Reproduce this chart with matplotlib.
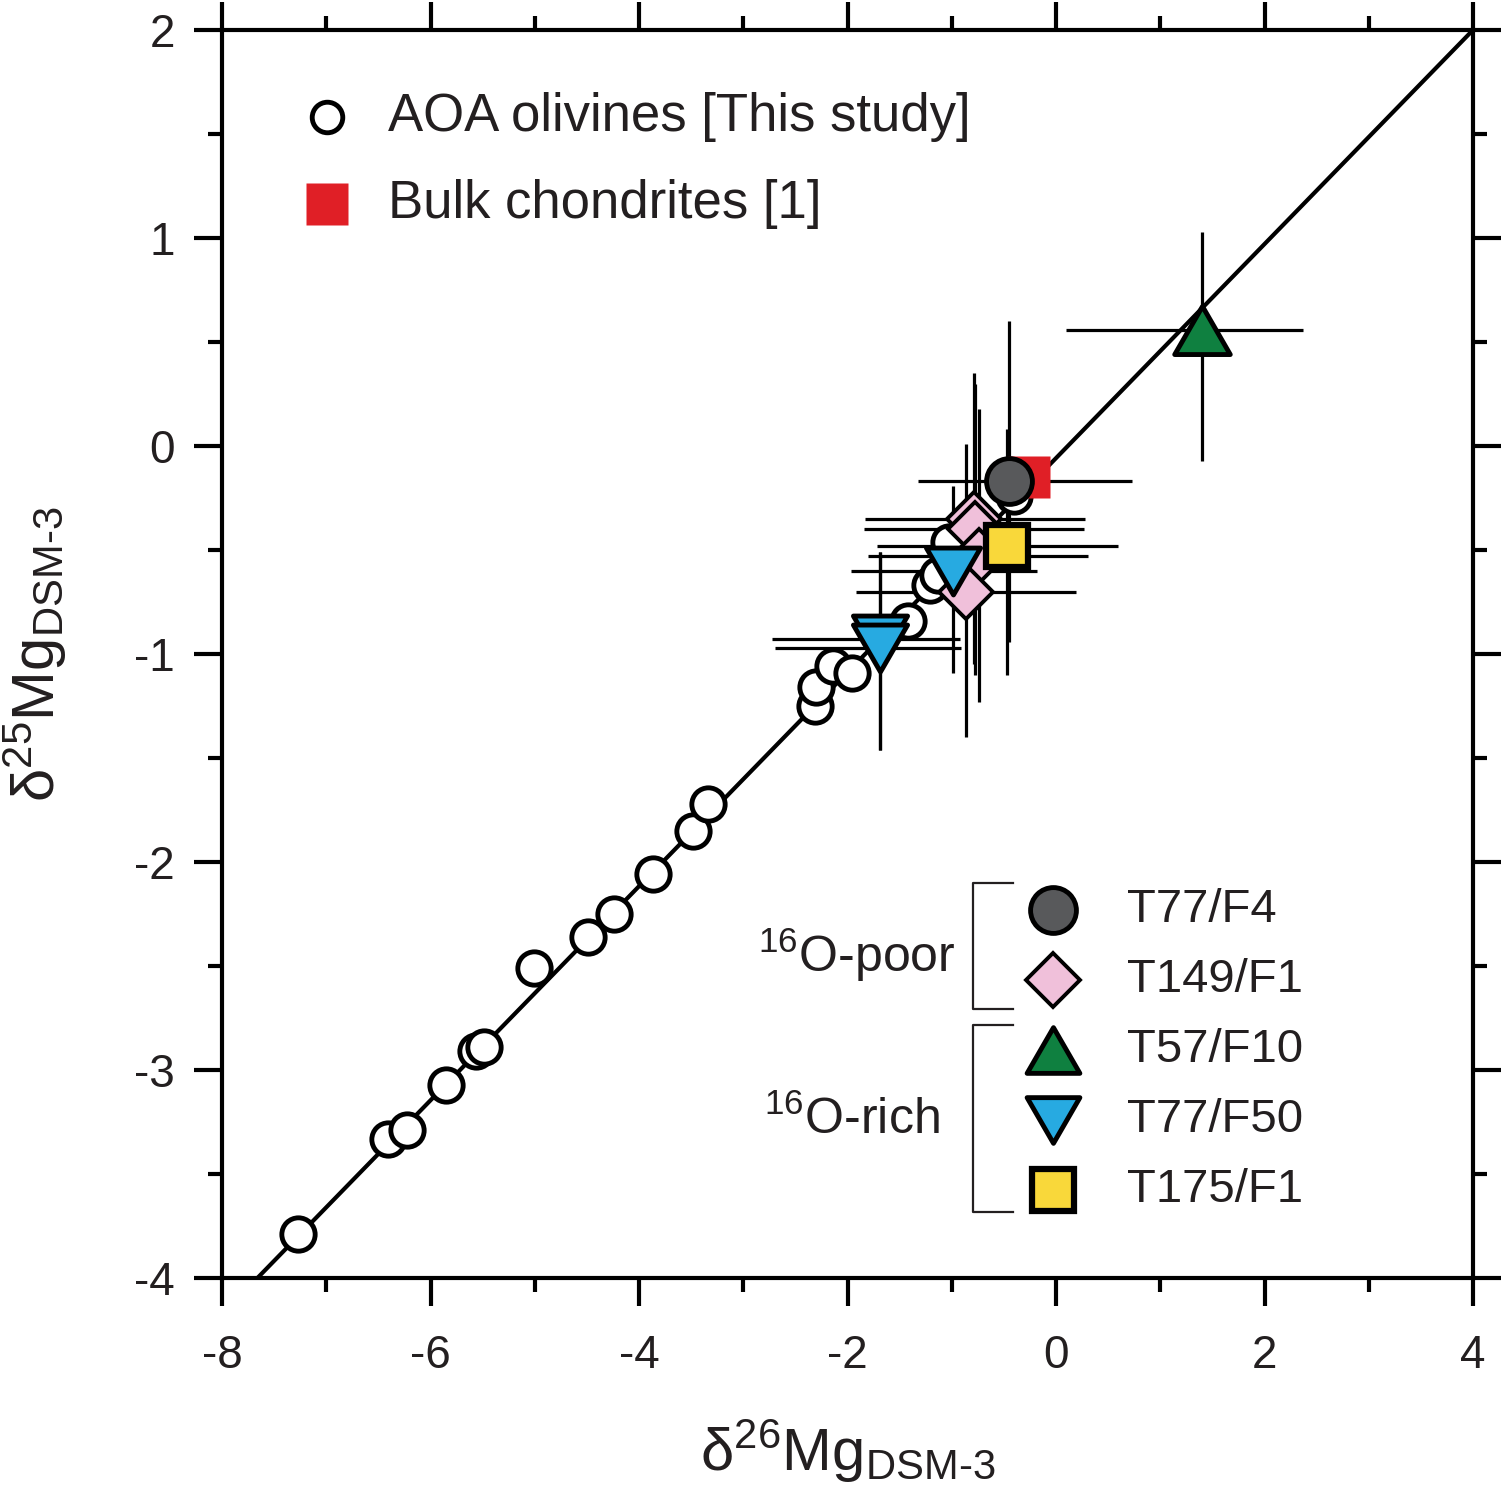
import matplotlib.pyplot as plt
from matplotlib.path import Path
from matplotlib.ticker import MultipleLocator

plt.rcParams['font.family'] = ['Liberation Sans', 'DejaVu Sans']
plt.rcParams['mathtext.fontset'] = 'custom'
plt.rcParams['mathtext.rm'] = 'Liberation Sans'
plt.rcParams['mathtext.default'] = 'regular'
plt.rcParams['axes.unicode_minus'] = False

TXT = '#231f20'

# AOA olivines [This study]
aoa_x = [-7.27, -6.41, -6.23, -5.85, -5.56, -5.49, -5.01, -4.49, -4.24, -3.87,
         -3.48, -3.34, -2.31, -2.30, -2.14, -1.96, -1.42, -1.21, -1.13, -1.03, -0.40]
aoa_y = [-3.79, -3.33, -3.29, -3.07, -2.91, -2.89, -2.51, -2.36, -2.25, -2.06,
         -1.85, -1.72, -1.25, -1.16, -1.06, -1.09, -0.84, -0.67, -0.62, -0.46, -0.24]

# Bulk chondrites [1]
bulk_x = [-0.26]
bulk_y = [-0.15]

# mass fractionation line
line_x = [-7.66, 4.0]
line_y = [-4.0, 2.0]

# individual objects: x, y, x err (low, high), y err (low, high)
t77f4 = dict(x=[-0.45], y=[-0.17], xlo=[0.87], xhi=[1.18], ylo=[0.77], yhi=[0.77])
t149f1 = dict(x=[-0.79, -0.78, -0.74, -0.86], y=[-0.35, -0.40, -0.53, -0.70],
              xlo=[1.04, 1.06, 1.06, 1.06], xhi=[1.07, 1.05, 1.05, 1.05],
              ylo=[0.70, 0.70, 0.70, 0.70], yhi=[0.70, 0.70, 0.71, 0.71])
t57f10 = dict(x=[1.40], y=[0.56], xlo=[1.30], xhi=[0.97], ylo=[0.63], yhi=[0.47])
t77f50 = dict(x=[-0.99, -1.69, -1.69], y=[-0.60, -0.93, -0.97],
              xlo=[0.98, 1.03, 1.01], xhi=[0.81, 0.77, 0.78],
              ylo=[0.49, 0.53, 0.49], yhi=[0.41, 0.42, 0.46])
t175f1 = dict(x=[-0.47], y=[-0.48], xlo=[1.25], xhi=[1.06], ylo=[0.62], yhi=[0.56])

tri_up = Path([(0, 0.866), (-1, -0.866), (1, -0.866), (0, 0.866)], closed=True)
tri_dn = Path([(0, -0.866), (-1, 0.866), (1, 0.866), (0, -0.866)], closed=True)

groups = [
    (t149f1, 'D', '#f0c0da', 27, 2.8),
    (t77f4, 'o', '#58595b', 33, 3.5),
    (t77f50, tri_dn, '#27aae1', 39, 3.5),
    (t175f1, 's', '#f9d83a', 30, 4.5),
    (t57f10, tri_up, '#0f8040', 40, 3.5),
]

fig = plt.figure(figsize=(15.03, 15.0), dpi=100)
ax = fig.add_axes([222 / 1503, 1 - 1278 / 1500, 1251 / 1503, 1248 / 1500])

ax.plot(line_x, line_y, color='black', lw=3, zorder=1, solid_capstyle='butt')

for g, m, c, ms, mew in groups:
    ax.errorbar(g['x'], g['y'], xerr=[g['xlo'], g['xhi']], yerr=[g['ylo'], g['yhi']],
                fmt='none', ecolor='black', elinewidth=2.3, capsize=0, zorder=2)

ax.plot(aoa_x, aoa_y, 'o', ms=24, mfc='white', mec='black', mew=3.5, ls='none', zorder=3)
ax.plot(bulk_x, bulk_y, 's', ms=30, color='#e01f26', mec='none', ls='none', zorder=4)

for i, (g, m, c, ms, mew) in enumerate(groups):
    ax.plot(g['x'], g['y'], marker=m, ms=ms, mfc=c, mec='black', mew=mew,
            ls='none', zorder=5 + i)

ax.set_xlim(-8, 4)
ax.set_ylim(-4, 2)
ax.xaxis.set_major_locator(MultipleLocator(2))
ax.xaxis.set_minor_locator(MultipleLocator(1))
ax.yaxis.set_major_locator(MultipleLocator(1))
ax.yaxis.set_minor_locator(MultipleLocator(0.5))
ax.tick_params(which='both', direction='out', top=True, right=True, width=3,
               colors='black', labelcolor=TXT, labelsize=33)
ax.tick_params(which='major', length=20)
ax.tick_params(which='minor', length=10)
ax.tick_params(axis='x', pad=20)
ax.tick_params(axis='y', pad=14)
for s in ax.spines.values():
    s.set_linewidth(3)

ax.set_xlabel(r'δ$^{26}$Mg$_{\text{DSM-3}}$', fontsize=43, color=TXT)
ax.set_ylabel(r'δ$^{25}$Mg$_{\text{DSM-3}}$', fontsize=43, color=TXT)
ax.xaxis.set_label_coords(0.5, -0.112)
ax.yaxis.set_label_coords(-0.122, 0.5)

# upper legend
ax.plot([0.0839], [0.930], 'o', ms=22, mfc='white', mec='black', mew=3.5,
        transform=ax.transAxes, clip_on=False)
ax.text(0.1327, 0.930, 'AOA olivines [This study]', transform=ax.transAxes,
        fontsize=38, color=TXT, va='center', ha='left')
ax.plot([0.0839], [0.8606], 's', ms=30, color='#e01f26', mec='none',
        transform=ax.transAxes, clip_on=False)
ax.text(0.1327, 0.8606, 'Bulk chondrites [1]', transform=ax.transAxes,
        fontsize=38, color=TXT, va='center', ha='left')

# sample legend
rows_y = [0.2949, 0.2388, 0.1827, 0.1266, 0.0705]
names = ['T77/F4', 'T149/F1', 'T57/F10', 'T77/F50', 'T175/F1']
leg_style = [
    ('o', '#58595b', 33, 3.5),
    ('D', '#f0c0da', 27, 2.8),
    (tri_up, '#0f8040', 38, 3.5),
    (tri_dn, '#27aae1', 38, 3.5),
    ('s', '#f9d83a', 30, 4.5),
]
for yy, name, (m, c, ms, mew) in zip(rows_y, names, leg_style):
    ax.plot([0.6643], [yy], marker=m, ms=ms, mfc=c, mec='black', mew=mew,
            transform=ax.transAxes, clip_on=False)
    ax.text(0.7234, yy, name, transform=ax.transAxes, fontsize=34, color=TXT,
            va='center', ha='left')

ax.text(0.586, 0.2588, r'$^{16}$O-poor', transform=ax.transAxes, fontsize=36,
        color=TXT, va='center', ha='right')
ax.text(0.574, 0.1266, r'$^{16}$O-rich', transform=ax.transAxes, fontsize=36,
        color=TXT, va='center', ha='right')

# brackets
for top, bot in [(0.3165, 0.2155), (0.2027, 0.0529)]:
    ax.plot([0.6323, 0.6003, 0.6003, 0.6323], [top, top, bot, bot], color=TXT,
            lw=1.6, transform=ax.transAxes, clip_on=False)

fig.savefig('out.png', dpi=100)
